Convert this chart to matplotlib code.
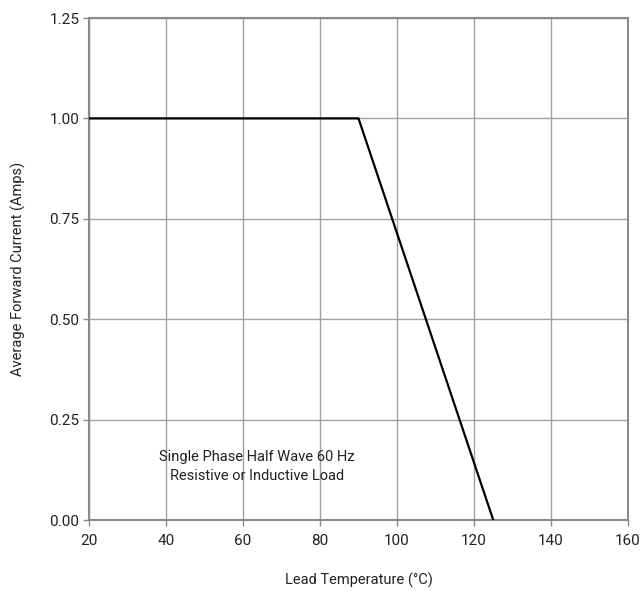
import matplotlib
matplotlib.use("Agg")
import matplotlib.pyplot as plt

temps = [20, 90, 125]
current = [1.0, 1.0, 0.0]
x_ticks = [20, 40, 60, 80, 100, 120, 140, 160]
y_ticks = [0.0, 0.25, 0.5, 0.75, 1.0, 1.25]

plt.rcParams['font.family'] = ['Roboto', 'DejaVu Sans']

fig = plt.figure(figsize=(6.41, 5.92), dpi=100)
ax = fig.add_axes([89/641, 1-520/592, (628-89)/641, (520-18)/592])

ax.plot(temps, current, color='black', lw=1.6, zorder=3)
ax.set_xlim(20, 160)
ax.set_ylim(0, 1.25)
ax.set_xticks(x_ticks)
ax.set_yticks(y_ticks)
ax.set_yticklabels([f"{v:.2f}" for v in y_ticks])
ax.grid(True, color='#a0a0a0', lw=1.0)
for s in ax.spines.values():
    s.set_color('#8a8a8a')
    s.set_linewidth(1.5)
ax.tick_params(direction='out', length=4, width=1, color='#8a8a8a', labelsize=11, labelcolor='#222222')
ax.tick_params(axis='x', pad=6)
ax.tick_params(axis='y', pad=3)

ax.text(63.6, 0.134, "Single Phase Half Wave 60 Hz\nResistive or Inductive Load",
        ha='center', va='center', fontsize=10.5, color='#222222', linespacing=1.45)

ax.set_xlabel("Lead Temperature (°C)", fontsize=10.5, color='#222222', labelpad=18)
ax.set_ylabel("Average Forward Current (Amps)", fontsize=10.5, color='#222222', labelpad=17)

fig.savefig("out.png", dpi=100)
